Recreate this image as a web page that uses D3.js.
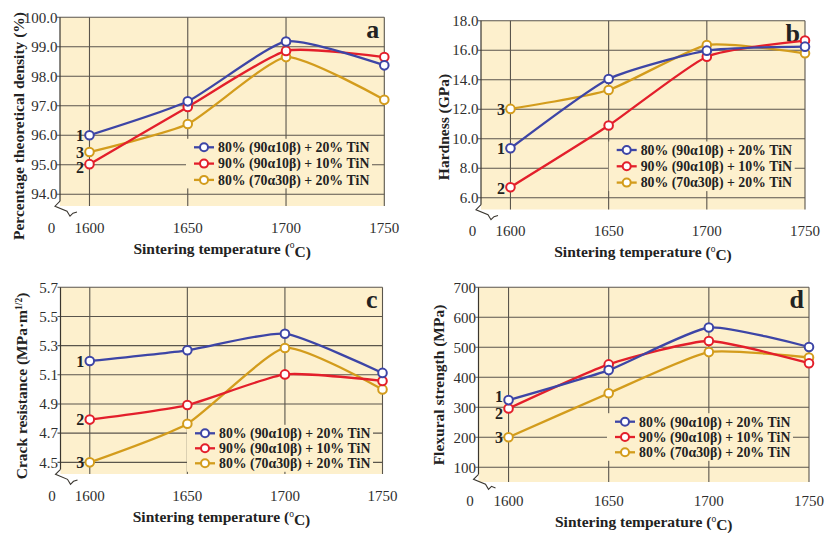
<!DOCTYPE html>
<html><head><meta charset="utf-8">
<script src="https://cdn.jsdelivr.net/npm/d3@7"></script>
<style>body{margin:0;background:#fff}svg{display:block}</style>
</head><body><svg id="c" width="830" height="533"></svg>
<script>
// ---------- data ----------
const temperatures = [1600, 1650, 1700, 1750];
const seriesNames = ["80% (90\u03b110\u03b2) + 20% TiN", "90% (90\u03b110\u03b2) + 10% TiN", "80% (70\u03b130\u03b2) + 20% TiN"];
const curveNumbers = ["1", "2", "3"];

const densityS1 = [96.0, 97.15, 99.18, 98.37];
const densityS2 = [95.02, 96.96, 98.86, 98.65];
const densityS3 = [95.43, 96.38, 98.65, 97.2];

const hardnessS1 = [9.35, 14.05, 15.97, 16.24];
const hardnessS2 = [6.71, 10.89, 15.56, 16.65];
const hardnessS3 = [12.02, 13.3, 16.35, 15.79];

const crackS1 = [5.195, 5.268, 5.382, 5.113];
const crackS2 = [4.793, 4.893, 5.103, 5.058];
const crackS3 = [4.5, 4.765, 5.284, 5.0];

const flexS1 = [324, 424, 566, 501];
const flexS2 = [296, 443, 521, 447];
const flexS3 = [200, 347, 484, 466];

const densityTicks = [94, 95, 96, 97, 98, 99, 100];
const hardnessTicks = [6, 8, 10, 12, 14, 16, 18];
const crackTicks = [4.5, 4.7, 4.9, 5.1, 5.3, 5.5, 5.7];
const flexTicks = [100, 200, 300, 400, 500, 600, 700];

// ---------- style / layout ----------
const colors = ["#3d45a6", "#e31f2b", "#d39c1c"];
const bg = "#fdf0cd";
const gridColor = "#5a554c";
const serif = "'Liberation Serif', 'DejaVu Serif', serif";

const panels = [
  { letter: "a", series: [densityS1, densityS2, densityS3], ticks: densityTicks, fmt: d3.format(".1f"),
    xr: [60, 384.3], yd: [93.6, 100], yr: [206, 17.3],
    ytitle: [{t: "Percentage theoretical density (%)"}], ytx: 19, yty: 126,
    legend: {x: 194, y: 147.3, dy: 16.3}, numDy: [0, 3.5, 0] },
  { letter: "b", series: [hardnessS1, hardnessS2, hardnessS3], ticks: hardnessTicks, fmt: d3.format(".1f"),
    xr: [481, 805], yd: [5.2, 18], yr: [209.5, 20.7],
    ytitle: [{t: "Hardness (GPa)"}], ytx: 443.5, yty: 127,
    legend: {x: 616.7, y: 150, dy: 16.3}, numDy: [0, 1, 0] },
  { letter: "c", series: [crackS1, crackS2, crackS3], ticks: crackTicks, fmt: d3.format(".1f"),
    xr: [60.5, 382.5], yd: [4.42, 5.7], yr: [474, 287.3],
    ytitle: [{t: "Crack resistance (MPa\u00b7m"}, {t: "1/2", sup: true}, {t: ")"}], ytx: 21.5, yty: 386,
    legend: {x: 195, y: 433.3, dy: 15}, numDy: [0, 0, 0] },
  { letter: "d", series: [flexS1, flexS2, flexS3], ticks: flexTicks, fmt: d3.format("d"),
    xr: [478.5, 809], yd: [51, 700], yr: [482, 287.3],
    ytitle: [{t: "Flexural strength (MPa)"}], ytx: 438.5, yty: 385,
    legend: {x: 615, y: 421.7, dy: 15.3}, numDy: [-3.5, 5, 0] }
];

const svg = d3.select("#c");

panels.forEach(p => {
  const g = svg.append("g");
  const x = d3.scaleLinear().domain([1585, 1750]).range(p.xr);
  const y = d3.scaleLinear().domain(p.yd).range(p.yr);
  const x0 = p.xr[0], x1 = p.xr[1];
  const top = p.yr[1], bottom = p.yr[0];
  const lastTickY = y(d3.min(p.ticks));
  const yb = lastTickY + 7;

  // background
  g.append("rect").attr("x", x0).attr("y", top).attr("width", x1 - x0).attr("height", bottom - top).attr("fill", bg);

  // zigzag break
  const zz = [[0, 0], [-5, 5], [7, 10], [10, 15], [13, 12], [17, bottom - yb + 6]].map(d => [x0 + d[0], yb + d[1]]);
  g.append("path")
    .attr("d", d3.line()([...zz, [x0 - 8, bottom + 8], [x0 - 8, yb]]) + "Z")
    .attr("fill", "#fff");

  // vertical grid
  g.selectAll(".vg").data(temperatures).join("line")
    .attr("x1", d => x(d)).attr("x2", d => x(d))
    .attr("y1", top).attr("y2", bottom)
    .attr("stroke", gridColor).attr("stroke-width", 1.1);

  // horizontal grid + ticks
  g.selectAll(".hg").data(p.ticks).join("line")
    .attr("x1", x0 - 3).attr("x2", x1)
    .attr("y1", d => y(d)).attr("y2", d => y(d))
    .attr("stroke", gridColor).attr("stroke-width", 1.1);

  // left axis
  g.append("line").attr("x1", x0).attr("x2", x0).attr("y1", top).attr("y2", yb)
    .attr("stroke", "#3a362f").attr("stroke-width", 1.2);
  g.append("path").attr("d", d3.line()(zz)).attr("fill", "none")
    .attr("stroke", "#3a362f").attr("stroke-width", 1.1);

  // y tick labels
  g.selectAll(".yl").data(p.ticks).join("text")
    .attr("x", x0 - 2.5).attr("y", d => y(d)).attr("dy", "0.35em")
    .attr("text-anchor", "end").attr("font-family", serif).attr("font-size", 15)
    .attr("fill", "#2e2e2e").text(p.fmt);

  // x tick labels
  const xly = lastTickY + 33.5;
  g.selectAll(".xl").data(temperatures).join("text")
    .attr("x", d => x(d)).attr("y", xly).attr("dy", "0.35em")
    .attr("text-anchor", "middle").attr("font-family", serif).attr("font-size", 15)
    .attr("fill", "#2e2e2e").text(d => d);
  g.append("text").attr("x", x0 - 8.5).attr("y", xly).attr("dy", "0.35em")
    .attr("text-anchor", "middle").attr("font-family", serif).attr("font-size", 15)
    .attr("fill", "#2e2e2e").text("0");

  // x title
  const xt = g.append("text").attr("x", (x0 + x1) / 2).attr("y", lastTickY + 54).attr("dy", "0.35em")
    .attr("text-anchor", "middle").attr("font-family", serif).attr("font-weight", "bold")
    .attr("font-size", 15.5).attr("fill", "#222");
  xt.append("tspan").text("Sintering temperature (");
  xt.append("tspan").attr("font-size", 9.5).attr("dy", "-0.55em").attr("font-weight", "normal").text("o");
  xt.append("tspan").attr("dy", "0.55em").text("C)");

  // y title
  const yt = g.append("text").attr("transform", `translate(${p.ytx},${p.yty}) rotate(-90)`)
    .attr("text-anchor", "middle").attr("dy", "0.35em").attr("font-family", serif)
    .attr("font-weight", "bold").attr("font-size", 15.5).attr("fill", "#222");
  p.ytitle.forEach(s => {
    const ts = yt.append("tspan").text(s.t);
    if (s.sup) ts.attr("font-size", 9.5).attr("baseline-shift", "super");
  });

  // panel letter
  g.append("text").attr("x", x1 - 5).attr("y", top + 21).attr("text-anchor", "end")
    .attr("font-family", serif).attr("font-weight", "bold").attr("font-size", 26)
    .attr("fill", "#222").text(p.letter);

  // legend background
  const L = p.legend;
  g.append("rect").attr("x", L.x - 8).attr("y", L.y - 8.5)
    .attr("width", 186).attr("height", 2 * L.dy + 17).attr("fill", bg);

  // lines
  const line = d3.line().x(d => x(d.t)).y(d => y(d.v)).curve(d3.curveCardinal.tension(0.45));
  const order = [2, 1, 0];
  order.forEach(i => {
    const pts = temperatures.map((t, k) => ({t, v: p.series[i][k]}));
    g.append("path").datum(pts).attr("d", line).attr("fill", "none")
      .attr("stroke", colors[i]).attr("stroke-width", 2.3);
  });
  order.forEach(i => {
    const pts = temperatures.map((t, k) => ({t, v: p.series[i][k]}));
    g.selectAll(null).data(pts).join("circle")
      .attr("cx", d => x(d.t)).attr("cy", d => y(d.v)).attr("r", 4.3)
      .attr("fill", "#fff").attr("stroke", colors[i]).attr("stroke-width", 2);
  });

  // curve numbers
  curveNumbers.forEach((n, i) => {
    g.append("text").attr("x", x(1600) - 9.5).attr("y", y(p.series[i][0]) + p.numDy[i]).attr("dy", "0.35em")
      .attr("text-anchor", "middle").attr("font-family", serif).attr("font-weight", "bold")
      .attr("font-size", 16).attr("fill", "#222").text(n);
  });

  // legend entries
  seriesNames.forEach((name, i) => {
    const ly = L.y + i * L.dy;
    g.append("line").attr("x1", L.x).attr("x2", L.x + 20).attr("y1", ly).attr("y2", ly)
      .attr("stroke", colors[i]).attr("stroke-width", 2.3);
    g.append("circle").attr("cx", L.x + 10).attr("cy", ly).attr("r", 4)
      .attr("fill", "#fff").attr("stroke", colors[i]).attr("stroke-width", 2);
    g.append("text").attr("x", L.x + 24).attr("y", ly).attr("dy", "0.35em")
      .attr("font-family", serif).attr("font-weight", "bold").attr("font-size", 13.8)
      .attr("fill", "#222").text(name);
  });
});
</script></body></html>
